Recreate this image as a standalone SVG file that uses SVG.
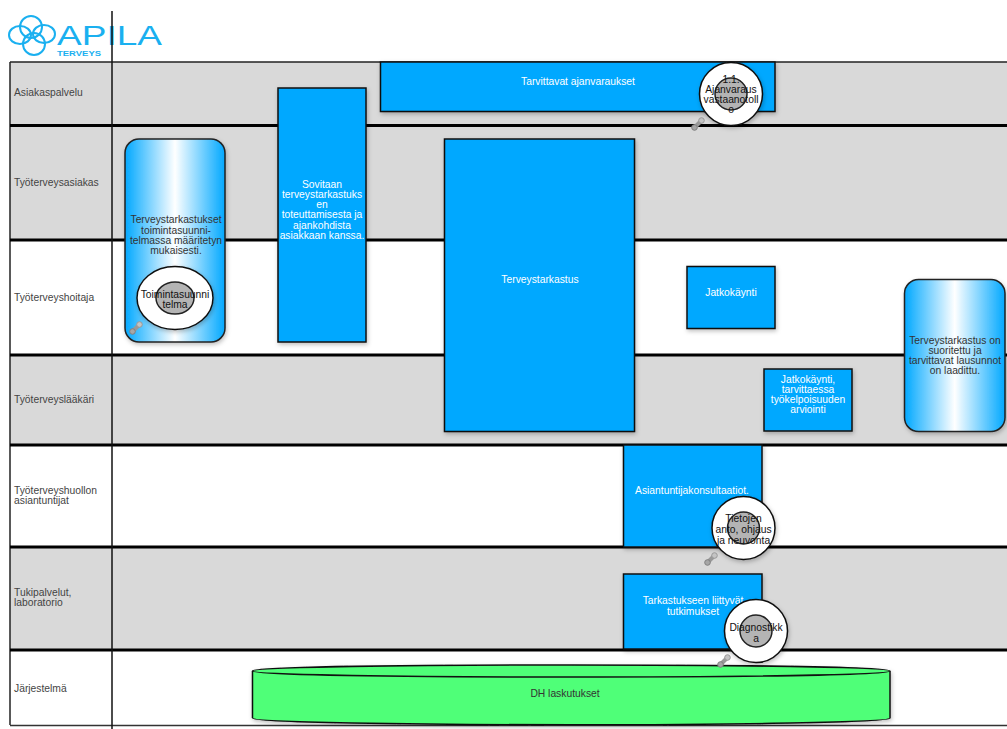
<svg xmlns="http://www.w3.org/2000/svg" width="1007" height="729" viewBox="0 0 1007 729">
<defs>
<linearGradient id="g"><stop offset="0" stop-color="#00a8ff"/><stop offset=".5" stop-color="#fff"/><stop offset="1" stop-color="#00a8ff"/></linearGradient>
<filter id="s" x="-10%" y="-10%" width="125%" height="125%"><feDropShadow dx="1" dy="2" stdDeviation="2" flood-color="#000" flood-opacity=".25"/></filter>
<g id="link"><path d="M-3.500 3.500L3.500-3.500" stroke="#999" stroke-width="4" fill="none"/><circle cx="-3.500" cy="3.500" r="2.800" fill="#a6a6a6" stroke="#808080"/><circle cx="3.500" cy="-3.500" r="2.800" fill="#c4c4c4" stroke="#999"/></g>
</defs>
<style>
text{font-family:"Liberation Sans",Arial,sans-serif;font-size:10.300px;text-anchor:middle}
.l{text-anchor:start;fill:#444}
.w{fill:#fff}
.d{fill:#333}
.k{fill:#111}
.b{fill:#00a8ff;stroke:#111;stroke-width:1.500;filter:url(#s)}
.g{fill:url(#g);stroke:#222;stroke-width:1.500;filter:url(#s)}
.o{fill:#fff;stroke:#111;stroke-width:1.500;filter:url(#s)}
.i{fill:#b4b4b4;stroke:#222;stroke-width:1.500}
.t{stroke:#000;stroke-width:3;fill:none}
</style>

<g id="logo" fill="none" stroke="#1ab0f0" stroke-width="2">
<ellipse cx="31" cy="27" rx="11" ry="11"/><ellipse cx="44" cy="34" rx="11" ry="9"/><ellipse cx="34" cy="44" rx="11" ry="11"/><ellipse cx="20" cy="35" rx="11" ry="9"/>
<text x="57" y="45" stroke="none" fill="#1ab0f0" textLength="105" lengthAdjust="spacingAndGlyphs" style="font-size:27px;text-anchor:start">APILA</text>
<text x="57" y="56" stroke="none" fill="#1ab0f0" textLength="44" lengthAdjust="spacingAndGlyphs" style="font-size:7.500px;font-weight:bold;text-anchor:start">TERVEYS</text>
</g>

<g id="lanes">
<rect x="10" y="62" width="997" height="63" fill="#d9d9d9"/>
<rect x="10" y="125" width="997" height="115" fill="#d9d9d9"/>
<rect x="10" y="240" width="997" height="115" fill="#fff"/>
<rect x="10" y="355" width="997" height="90" fill="#d9d9d9"/>
<rect x="10" y="445" width="997" height="102" fill="#fff"/>
<rect x="10" y="547" width="997" height="103" fill="#d9d9d9"/>
<rect x="10" y="650" width="997" height="75" fill="#fff"/>
<path d="M10 62V725" stroke="#222" stroke-width="1.500" fill="none"/>
<path d="M10 62H1007" stroke="#222" stroke-width="1.500" fill="none"/>
<path d="M10 725.500H1007" stroke="#333" stroke-width="1.500" fill="none"/>
<path class="t" d="M10 125.500H1007M10 240H1007M10 355H1007M10 445H1007M10 547H1007M10 650H1007"/>
<path d="M112 11V729" stroke="#111" stroke-width="1.500" fill="none"/>
<text class="l" x="14" y="96">Asiakaspalvelu</text>
<text class="l" x="14" y="186">Työterveysasiakas</text>
<text class="l" x="14" y="301">Työterveyshoitaja</text>
<text class="l" x="14" y="403">Työterveyslääkäri</text>
<text class="l" x="14" y="494">Työterveyshuollon</text>
<text class="l" x="14" y="504">asiantuntijat</text>
<text class="l" x="14" y="596">Tukipalvelut,</text>
<text class="l" x="14" y="606">laboratorio</text>
<text class="l" x="14" y="692">Järjestelmä</text>
</g>

<g id="connectors"></g>

<g id="n-ajanvaraukset">
<rect class="b" x="380.500" y="62" width="394.500" height="49.500"/>
<text class="w" x="578" y="85">Tarvittavat ajanvaraukset</text>
</g>
<g id="n-sovitaan">
<rect class="b" x="278" y="88" width="88" height="254"/>
<text class="w" x="322" y="188">Sovitaan</text>
<text class="w" x="322" y="198">terveystarkastuks</text>
<text class="w" x="322" y="208">en</text>
<text class="w" x="322" y="218">toteuttamisesta ja</text>
<text class="w" x="322" y="229">ajankohdista</text>
<text class="w" x="322" y="239">asiakkaan kanssa.</text>
</g>
<g id="n-start">
<rect class="g" x="125" y="139" width="100" height="203" rx="14"/>
<text class="d" x="176" y="223">Terveystarkastukset</text>
<text class="d" x="176" y="234">toimintasuunni-</text>
<text class="d" x="176" y="244">telmassa määritetyn</text>
<text class="d" x="176" y="254">mukaisesti.</text>
</g>
<g id="n-toimintasuunnitelma">
<ellipse class="o" cx="175" cy="298" rx="38" ry="31.500"/>
<ellipse class="i" cx="175" cy="298" rx="19" ry="16"/>
<text class="k" x="175" y="298">Toimintasuunni</text>
<text class="k" x="175" y="308">telma</text>
</g>
<use href="#link" x="136" y="328"/>
<g id="n-terveystarkastus">
<rect class="b" x="444.500" y="139" width="190" height="292.500"/>
<text class="w" x="540" y="283">Terveystarkastus</text>
</g>
<g id="n-jatkokaynti">
<rect class="b" x="687" y="266.500" width="88" height="62"/>
<text class="w" x="731" y="296">Jatkokäynti</text>
</g>
<g id="n-jatkokaynti2">
<rect class="b" x="764" y="369" width="88" height="62"/>
<text class="w" x="808" y="383">Jatkokäynti,</text>
<text class="w" x="808" y="393">tarvittaessa</text>
<text class="w" x="808" y="403">työkelpoisuuden</text>
<text class="w" x="808" y="413">arviointi</text>
</g>
<g id="n-end">
<rect class="g" x="904.500" y="279.500" width="100.500" height="152" rx="14"/>
<text class="d" x="955" y="344">Terveystarkastus on</text>
<text class="d" x="955" y="354">suoritettu ja</text>
<text class="d" x="955" y="364">tarvittavat lausunnot</text>
<text class="d" x="955" y="374">on laadittu.</text>
</g>
<g id="n-asiantuntija">
<rect class="b" x="623.500" y="445" width="138.500" height="102"/>
<text class="w" x="692" y="494">Asiantuntijakonsultaatiot.</text>
</g>
<g id="n-tarkastus">
<rect class="b" x="623.500" y="574" width="138.500" height="75"/>
<text class="w" x="693" y="604">Tarkastukseen liittyvät</text>
<text class="w" x="693" y="615">tutkimukset</text>
</g>
<g id="n-dh">
<path d="M252.500 671C252.500 663 890 663 890 671V718C890 727 252.500 727 252.500 718Z" fill="#50ff78" stroke="#111" stroke-width="1.500" filter="url(#s)"/>
<path d="M252.500 671C252.500 679 890 679 890 671" fill="none" stroke="#111" stroke-width="1.500"/>
<text class="d" x="565" y="697">DH laskutukset</text>
</g>
<g id="n-ajanvaraus">
<circle class="o" cx="731" cy="94" r="31.500"/>
<circle class="i" cx="731" cy="94" r="16"/>
<text class="k" x="731" y="83">1.1.</text>
<text class="k" x="731" y="93">Ajanvaraus</text>
<text class="k" x="731" y="103">vastaanotoll</text>
<text class="k" x="731" y="113">o</text>
</g>
<use href="#link" x="698" y="124"/>
<g id="n-tietojen">
<circle class="o" cx="743.500" cy="528" r="31.500"/>
<circle class="i" cx="743.500" cy="528" r="16"/>
<text class="k" x="743.500" y="522">Tietojen</text>
<text class="k" x="743.500" y="533">anto, ohjaus</text>
<text class="k" x="743.500" y="544">ja neuvonta</text>
</g>
<use href="#link" x="711" y="559"/>
<g id="n-diagnostiikka">
<circle class="o" cx="756" cy="631" r="31.500"/>
<circle class="i" cx="756" cy="631" r="16"/>
<text class="k" x="756" y="631">Diagnostikk</text>
<text class="k" x="756" y="642">a</text>
</g>
<use href="#link" x="724" y="661"/>
</svg>
